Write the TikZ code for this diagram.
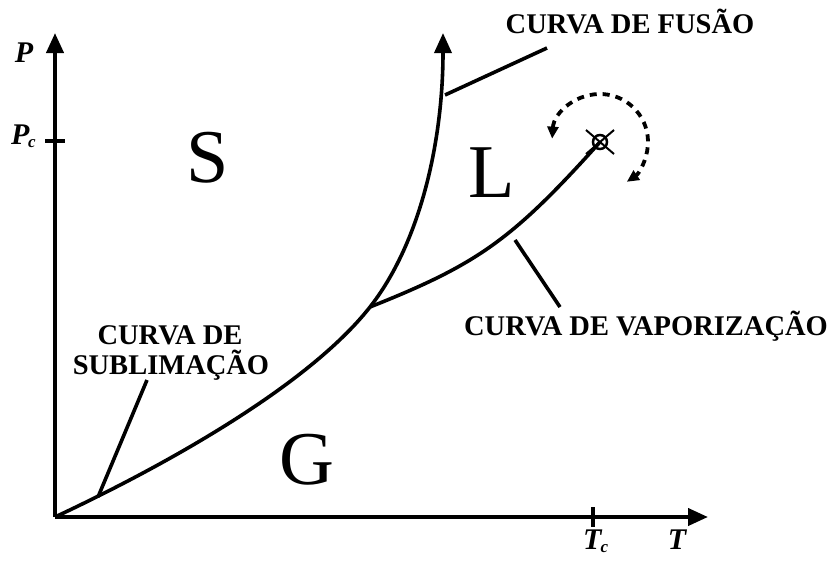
\documentclass[tikz,border=0pt]{standalone}
\usepackage{fontspec}
\setmainfont{Liberation Serif}
\usetikzlibrary{arrows.meta,calc}
\begin{document}
\begin{tikzpicture}[x=1pt,y=-1pt,
  axis/.style={line width=4pt,-{Triangle[length=20pt,width=17pt]}},
  curve/.style={line width=3.6pt},
  leader/.style={line width=3.6pt},
  dasharc/.style={line width=3.8pt,dash pattern=on 7pt off 6pt,
     {Triangle[length=12pt,width=11pt]}-{Triangle[length=12pt,width=11pt]}},
  lbl/.style={font=\fontsize{28.5}{30}\selectfont\bfseries,inner sep=0pt,anchor=base},
  phase/.style={font=\fontsize{76}{76}\selectfont,inner sep=0pt,anchor=base},
  axlbl/.style={font=\fontsize{30}{30}\selectfont\bfseries\itshape,inner sep=0pt,anchor=base}]
\useasboundingbox (0,0) rectangle (835,563);
% key points
\coordinate (O) at (55,517);
\coordinate (Pend) at (55,33);
\coordinate (Tend) at (708,517);
\coordinate (TP) at (370,307);
\coordinate (crit) at (600,142);
\coordinate (top) at (443,33);
% axes
\draw[axis] (O) -- (Pend);
\draw[axis] (O) -- (Tend);
% ticks
\coordinate (pcA) at (45,141); \coordinate (pcB) at (65,141);
\coordinate (tcA) at (593,507); \coordinate (tcB) at (593,527);
\draw[line width=3.5pt] (pcA) -- (pcB);
\draw[line width=3.5pt] (tcA) -- (tcB);
% axis labels
\node[axlbl] (P) at (24,62) {P};
\node[axlbl,anchor=base west] (Pc) at (11,144) {P\kern-1.5pt\raisebox{-3pt}{\fontsize{17}{17}\selectfont c}};
\node[axlbl,anchor=base west] (Tc) at (583,549) {T\kern-1pt\raisebox{-3pt}{\fontsize{17}{17}\selectfont c}};
\node[axlbl] (T) at (677,549) {T};
% main curve (sublimation + fusion)
\draw[curve,-{Triangle[length=20pt,width=17pt]}] (O)
   .. controls (164,466) and (308,386) .. (TP)
   .. controls (419.6,243.8) and (443,143) .. (top);
% vaporization curve
\draw[curve] (TP) .. controls (478,264) and (512,240) .. (crit);
% critical point
\draw[line width=2pt] ($(crit)+(-14,-12)$) -- ($(crit)+(14,12)$);
\draw[line width=2pt] ($(crit)+(14,-12)$) -- ($(crit)+(-14,12)$);
\draw[line width=2.5pt] (crit) circle[radius=7pt];
\draw[dasharc] ($(crit)+(176:48pt)$) arc[start angle=176,end angle=-56,radius=48pt];
% phase letters
\node[phase] (S) at (208,182) {S};
\node[phase] (L) at (492,197) {L};
\node[phase] (G) at (307,484) {G};
% labels
\node[lbl] (fus) at (630,33) {CURVA DE FUSÃO};
\node[lbl] (vap) at (646,335) {CURVA DE VAPORIZAÇÃO};
\node[lbl] (sub1) at (170,344) {CURVA DE};
\node[lbl] (sub2) at (171,374) {SUBLIMAÇÃO};
% leader lines
\coordinate (fusA) at (445,95); \coordinate (fusB) at (547,48);
\coordinate (vapA) at (515,240); \coordinate (vapB) at (560,307);
\coordinate (subA) at (98,497); \coordinate (subB) at (147,380);
\draw[leader] (fusA) -- (fusB);
\draw[leader] (vapA) -- (vapB);
\draw[leader] (subA) -- (subB);
\end{tikzpicture}
\end{document}
